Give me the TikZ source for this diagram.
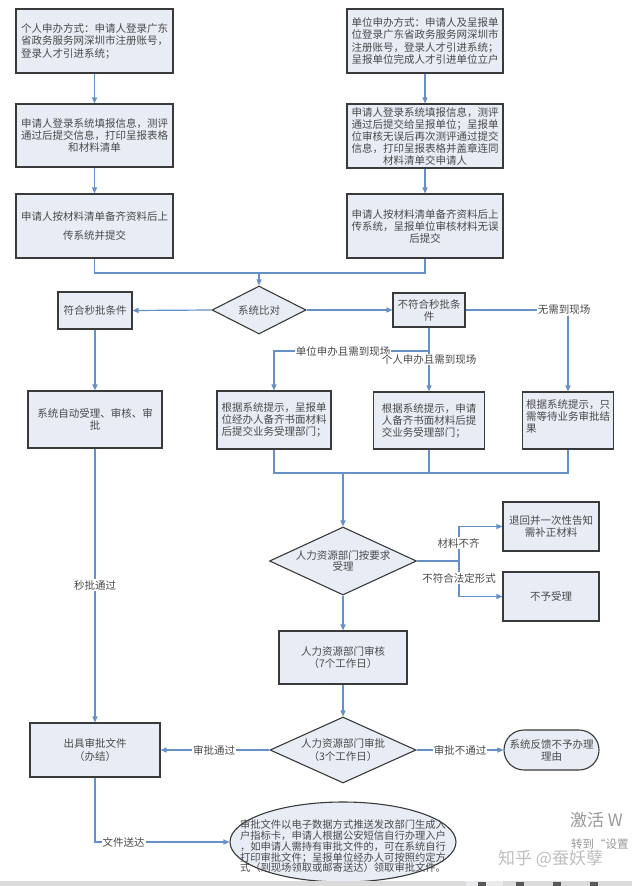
\documentclass[tikz,border=0pt]{standalone}
\usepackage{fontspec}
\setmainfont{Noto Sans CJK SC}
\usetikzlibrary{shapes.geometric,arrows.meta,calc}
\definecolor{boxfill}{HTML}{E7ECF5}
\definecolor{boxline}{HTML}{3A3A3A}
\definecolor{connblue}{HTML}{6590C8}
\definecolor{txt}{HTML}{4A4A4A}
\begin{document}
\begin{tikzpicture}[x=1pt,y=-1pt,
  every node/.style={text=txt, font=\fontsize{10.5}{12.5}\selectfont},
  box/.style={draw=boxline, fill=boxfill, line width=1.1pt, inner sep=2pt},
  dia/.style={draw=boxline, fill=boxfill, line width=1.1pt, diamond, inner sep=0pt},
  conn/.style={draw=connblue, line width=1.2pt},
  arr/.style={conn, -{Triangle[length=6pt,width=5pt]}},
  lab/.style={fill=white, inner sep=1pt},
]
\fill[white] (0,0) rectangle (632,886);
\useasboundingbox (0,0) rectangle (632,886);

% top left column
\node[box, minimum width=157pt, minimum height=64pt, align=left] (L1) at (94.5,41)
  {个人申办方式：申请人登录广东\\省政务服务网深圳市注册账号，\\登录人才引进系统；};
\node[box, minimum width=157pt, minimum height=63pt, align=center,
  font=\fontsize{10.5}{12}\selectfont] (L2) at (94.5,135.5)
  {申请人登录系统填报信息，测评\\通过后提交信息，打印呈报表格\\和材料清单};
\node[box, minimum width=157pt, minimum height=64pt, align=center] (L3) at (94.5,226)
  {申请人按材料清单备齐资料后上\\[6pt]传系统并提交};

% top right column
\node[box, minimum width=156pt, minimum height=64pt, align=left,
  font=\fontsize{10.5}{12.5}\selectfont] (R1) at (425,41)
  {单位申办方式：申请人及呈报单\\位登录广东省政务服务网深圳市\\注册账号，登录人才引进系统；\\呈报单位完成人才引进单位立户};
\node[box, minimum width=156pt, minimum height=64pt, align=center,
  font=\fontsize{10.5}{12}\selectfont, inner sep=1pt] (R2) at (425,136)
  {申请人登录系统填报信息，测评\\通过后提交给呈报单位；呈报单\\位审核无误后再次测评通过提交\\信息，打印呈报表格并盖章连同\\材料清单交申请人};
\node[box, minimum width=156pt, minimum height=64pt, align=center,
  font=\fontsize{10.5}{12}\selectfont] (R3) at (425,226)
  {申请人按材料清单备齐资料后上\\传系统，呈报单位审核材料无误\\后提交};

% comparison
\node[dia, minimum width=94pt, minimum height=48pt, label={center:系统比对}] (D1) at (259,310) {};
\node[box, minimum width=74pt, minimum height=37pt] (F) at (95,310.5) {符合秒批条件};
\node[box, minimum width=72pt, minimum height=34pt, align=center,
  font=\fontsize{10.5}{12}\selectfont] (N) at (429,310) {不符合秒批条\\件};

% row of boxes
\node[box, minimum width=134pt, minimum height=57pt, align=center] (A) at (95,419.5)
  {系统自动受理、审核、审\\批};
\node[box, minimum width=114pt, minimum height=58pt, align=left,
  font=\fontsize{10.5}{11.8}\selectfont] (B1) at (274,420)
  {根据系统提示，呈报单\\位经办人备齐书面材料\\后提交业务受理部门；};
\node[box, minimum width=111pt, minimum height=57pt, align=left,
  font=\fontsize{10.5}{12}\selectfont] (B2) at (429,420.5)
  {根据系统提示，申请\\人备齐书面材料后提\\交业务受理部门；};
\node[box, minimum width=91pt, minimum height=57pt, align=left,
  font=\fontsize{10.5}{12}\selectfont] (B3) at (568,420.5)
  {根据系统提示，只\\需等待业务审批结\\果\\[-4pt]};

% acceptance
\node[dia, minimum width=147pt, minimum height=68pt,
  label={[align=center, font=\fontsize{10.5}{11.5}\selectfont]center:{人力资源部门按要求\\受理}}] (D2) at (343,561) {};
\node[box, minimum width=96pt, minimum height=49pt, align=center] (T) at (551,526.5)
  {退回并一次性告知\\需补正材料};
\node[box, minimum width=96pt, minimum height=49pt] (U) at (551,596.5) {不予受理};

% review and approval
\node[box, minimum width=128pt, minimum height=53pt, align=center] (H) at (343,657.5)
  {人力资源部门审核\\（7个工作日）};
\node[dia, minimum width=146pt, minimum height=66pt,
  label={[align=center]center:{人力资源部门审批\\（3个工作日）}}] (D3) at (343,750) {};
\node[box, minimum width=130pt, minimum height=54pt, align=center] (O) at (95,750)
  {出具审批文件\\（办结）};
\node[box, rounded corners=20pt, minimum width=95pt, minimum height=40pt, align=center,
  font=\fontsize{10.5}{12}\selectfont] (S) at (551.5,750)
  {系统反馈不予办理\\理由};
\node[draw=boxline, fill=boxfill, line width=1.1pt, ellipse, minimum width=226pt,
  minimum height=80pt, inner sep=0pt,
  label={[align=center, yshift=-4.5pt, font=\fontsize{10.3}{10.8}\selectfont]center:{审批文件以电子数据方式推送发改部门生成入\\户指标卡，申请人根据公安短信自行办理入户\\，如申请人需持有审批文件的，可在系统自行\\打印审批文件；呈报单位经办人可按照约定方\\式（到现场领取或邮寄送达）领取审批文件。}}] (E) at (343,842) {};

% connectors: top
\draw[arr] (L1) -- (L2);
\draw[arr] (L2) -- (L3);
\draw[arr] (R1) -- (R2);
\draw[arr] (R2) -- (R3);
\coordinate (m1) at (259,273);
\draw[conn] (L3.south) |- (m1);
\draw[conn] (R3.south) |- (m1);
\draw[arr] (m1) -- (D1.north);
\draw[arr] (D1.west) -- (F.east);
\draw[arr] (D1.east) -- (N.west);
\draw[arr] (F.south) -- (A.north);

% branches of N
\coordinate (c1) at (568,310);
\draw[arr] (N.east) -- (c1) -- (B3.north);
\node[lab] (l1) at (564,310) {无需到现场};
\coordinate (c2) at (429,351);
\draw[arr] (c2) -| (B1.north);
\draw[arr] (N.south) -- (B2.north);
\node[lab] (l2) at (343,351) {单位申办且需到现场};
\node[lab] (l3) at (429,359.5) {个人申办且需到现场};

% merge to D2
\coordinate (m2) at (343,473);
\draw[conn] (B1.south) |- (m2);
\draw[conn] (B2.south) |- (m2);
\draw[conn] (B3.south) |- (m2);
\draw[arr, line width=1.6pt] (m2) -- (D2.north);

% D2 branches
\coordinate (c3) at (459,561);
\draw[conn] (D2.east) -- (c3);
\draw[arr] (c3) |- (T.west);
\draw[arr] (c3) |- (U.west);
\node[lab] (l4) at (458.5,543) {材料不齐};
\node[lab] (l5) at (459,578) {不符合法定形式};

\draw[arr] (D2.south) -- (H.north);
\draw[arr] (H.south) -- (D3.north);
\draw[arr] (D3.east) -- (S.west);
\node[lab] (l6) at (460,750) {审批不通过};
\draw[arr] (D3.west) -- (O.east);
\node[lab] (l7) at (214,750) {审批通过};
\draw[arr] (A.south) -- (O.north);
\node[lab] (l8) at (95,585) {秒批通过};
\draw[arr] (O.south) |- (E.west);
\node[lab] (l9) at (123.5,842) {文件送达};

% screenshot artefacts
\node[anchor=west, text=black!40, font=\fontsize{17}{17}\selectfont, inner sep=0pt] (w1) at (570,820) {激活 W};
\node[anchor=west, text=black!40, font=\fontsize{11.5}{12}\selectfont, inner sep=0pt] (w2) at (571,844) {转到“设置};
\node[anchor=west, text=black!25, font=\fontsize{17}{17}\selectfont, inner sep=0pt] (w3) at (498,858.5) {知乎 @蚕妖孽};
\fill[black!14] (0,880.5) rectangle (632,886);
\fill[blue!12!black!8] (466,880.5) rectangle (503,886);
\fill[black!65] (478,882) rectangle (486,886);
\fill[black!65] (516,882) rectangle (524,886);
\fill[black!65] (553,882) rectangle (561,886);
\fill[black!65] (590,882) rectangle (598,886);
\end{tikzpicture}
\end{document}
